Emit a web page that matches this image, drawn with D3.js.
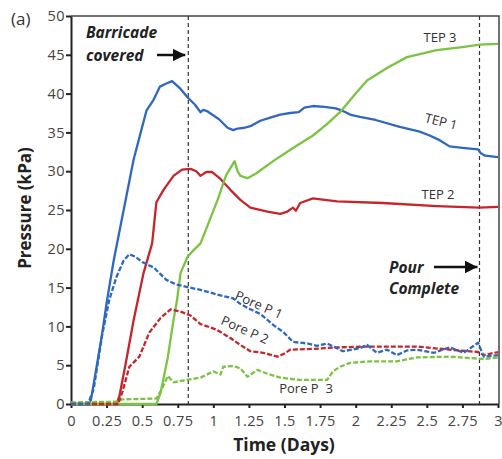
<!DOCTYPE html>
<html>
<head>
<meta charset="utf-8">
<script src="https://cdn.jsdelivr.net/npm/d3@7"></script>
<style>
  body { margin: 0; background: #fff; }
  svg { display: block; font-family: "Open Sans", sans-serif; }
</style>
</head>
<body>
<div id="chart"></div>
<script>
// readings: [days, kPa]
const tep1 = [[0,0],[0.12,0],[0.14,0.5],[0.18,4.8],[0.22,9.2],[0.25,13.0],[0.30,18.5],[0.37,25.0],[0.44,31.5],[0.49,35.0],[0.53,37.8],[0.58,39.2],[0.625,40.9],[0.67,41.3],[0.71,41.6],[0.77,40.6],[0.82,39.5],[0.87,38.6],[0.91,37.6],[0.93,37.9],[0.96,37.7],[1.04,36.7],[1.10,35.6],[1.14,35.3],[1.17,35.5],[1.22,35.6],[1.26,35.8],[1.33,36.5],[1.40,36.9],[1.47,37.3],[1.54,37.5],[1.60,37.6],[1.64,38.2],[1.70,38.4],[1.78,38.3],[1.86,38.1],[1.89,37.9],[1.93,37.6],[1.96,37.3],[2.03,37.0],[2.14,36.6],[2.31,35.7],[2.45,35.1],[2.52,34.6],[2.59,34.0],[2.66,33.2],[2.75,33.0],[2.86,32.8],[2.88,32.3],[2.91,32.0],[3.0,31.8]];
const tep2 = [[0,0],[0.32,0],[0.34,1],[0.38,4.8],[0.44,10.8],[0.51,16.9],[0.57,20.7],[0.60,26.0],[0.65,27.6],[0.72,29.4],[0.78,30.2],[0.84,30.3],[0.88,30.0],[0.91,29.4],[0.95,29.9],[0.99,29.9],[1.05,29.0],[1.12,27.6],[1.19,26.3],[1.26,25.3],[1.38,24.8],[1.47,24.5],[1.52,24.8],[1.56,25.3],[1.58,24.9],[1.61,25.9],[1.70,26.5],[1.74,26.4],[1.87,26.1],[2.19,25.9],[2.57,25.5],[2.87,25.3],[3.0,25.4]];
const tep3 = [[0,0],[0.60,0],[0.63,1.5],[0.68,6],[0.72,10.8],[0.745,13.4],[0.77,16.9],[0.82,19.0],[0.86,19.8],[0.91,20.7],[0.955,22.8],[1.03,26.3],[1.09,29.5],[1.14,31.0],[1.15,31.3],[1.17,30.0],[1.19,29.4],[1.24,29.1],[1.30,29.7],[1.42,31.3],[1.56,33.0],[1.70,34.6],[1.80,36.1],[1.89,37.6],[2.0,40.0],[2.08,41.7],[2.22,43.3],[2.36,44.7],[2.57,45.6],[2.75,46.0],[2.87,46.3],[3.0,46.4]];
const pore1 = [[0,0],[0.12,0],[0.16,2],[0.22,9.0],[0.27,13.5],[0.32,16.4],[0.37,18.5],[0.41,19.3],[0.45,19.0],[0.50,18.3],[0.58,17.6],[0.67,16.0],[0.74,15.4],[0.81,15.1],[0.91,14.7],[1.05,14.0],[1.14,13.6],[1.19,12.9],[1.26,12.2],[1.33,11.6],[1.42,10.2],[1.49,9.3],[1.56,8.0],[1.66,7.8],[1.73,7.5],[1.80,7.8],[1.91,6.8],[2.03,7.2],[2.08,7.6],[2.15,6.6],[2.22,7.0],[2.29,6.3],[2.36,6.9],[2.43,7.0],[2.55,6.6],[2.66,7.3],[2.76,6.6],[2.86,7.9],[2.90,6.1],[3.0,6.3]];
const pore2 = [[0,0],[0.33,0],[0.36,1.5],[0.41,4.8],[0.48,6.1],[0.55,9.2],[0.63,11.1],[0.70,12.2],[0.77,11.9],[0.84,11.4],[0.91,10.3],[1.02,9.6],[1.12,8.5],[1.19,7.6],[1.26,6.8],[1.35,6.6],[1.45,6.1],[1.50,6.5],[1.54,7.0],[1.70,7.1],[1.87,7.3],[2.08,7.4],[2.43,7.4],[2.66,7.0],[2.86,6.7],[2.90,6.3],[3.0,6.7]];
const pore3 = [[0,0.2],[0.33,0.3],[0.36,0.6],[0.60,0.7],[0.64,2.0],[0.68,3.6],[0.72,2.8],[0.81,3.1],[0.91,3.4],[1.0,4.2],[1.05,3.8],[1.07,4.8],[1.14,4.9],[1.19,4.6],[1.24,3.5],[1.31,4.4],[1.38,3.9],[1.47,3.4],[1.61,3.1],[1.80,3.1],[1.84,4.2],[1.89,4.8],[1.96,5.3],[2.10,5.5],[2.29,5.5],[2.43,6.0],[2.66,6.1],[2.90,5.8],[3.0,6.0]];

const xTicks = [0, 0.25, 0.5, 0.75, 1, 1.25, 1.5, 1.75, 2, 2.25, 2.5, 2.75, 3];
const yTicks = [0, 5, 10, 15, 20, 25, 30, 35, 40, 45, 50];
const markerDays = [0.824, 2.87]; // barricade covered, pour complete

const W = 502, H = 459;
const margin = { top: 16, right: 4, bottom: 55, left: 71 };

const svg = d3.select('#chart').append('svg')
    .attr('width', W)
    .attr('height', H);

const x = d3.scaleLinear().domain([0, 3]).range([margin.left, 498]);
const y = d3.scaleLinear().domain([0, 50]).range([404, margin.top]);

const blue = '#2f68bd', red = '#c4262b', green = '#7cc243';

// frame (top + right)
svg.append('path')
    .attr('d', `M${x(0)},${y(50)}H${x(3) + 1}V${y(0)}`)
    .attr('fill', 'none')
    .attr('stroke', '#444')
    .attr('stroke-width', 1.5);

// vertical marker lines
svg.selectAll('.marker')
    .data(markerDays)
    .join('line')
    .attr('x1', d => x(d)).attr('x2', d => x(d))
    .attr('y1', y(50)).attr('y2', y(0))
    .attr('stroke', '#333')
    .attr('stroke-width', 1.2)
    .attr('stroke-dasharray', '4,3');

// axes
const xAxis = svg.append('g')
    .attr('transform', `translate(0,${y(0)})`)
    .call(d3.axisBottom(x).tickValues(xTicks).tickFormat(d => String(d)).tickSize(4).tickSizeOuter(0));
const yAxis = svg.append('g')
    .attr('transform', `translate(${x(0)},0)`)
    .call(d3.axisLeft(y).tickValues(yTicks).tickSize(5).tickSizeOuter(0));

[xAxis, yAxis].forEach(a => {
    a.select('.domain').attr('stroke', '#222').attr('stroke-width', 2);
    a.selectAll('.tick line').attr('stroke', '#222').attr('stroke-width', 2);
    a.selectAll('.tick text')
        .attr('fill', '#444')
        .style('font-size', '14.5px')
        .style('letter-spacing', '0.4px')
        .style('font-family', '"Open Sans", sans-serif');
});
xAxis.selectAll('.tick text').attr('dy', '1.0em');
yAxis.selectAll('.tick text').attr('x', -6);

// axis titles
svg.append('text')
    .attr('x', 284).attr('y', 451)
    .attr('text-anchor', 'middle')
    .style('font-weight', 'bold').style('font-size', '17.5px').attr('fill', '#222')
    .text('Time (Days)');
svg.append('text')
    .attr('transform', 'translate(31,208) rotate(-90)')
    .attr('text-anchor', 'middle')
    .style('font-weight', 'bold').style('font-size', '17px').attr('fill', '#222')
    .text('Pressure (kPa)');
svg.append('text')
    .attr('x', 11).attr('y', 25)
    .style('font-size', '17px').attr('fill', '#333')
    .text('(a)');

// curves
const line = d3.line().x(d => x(d[0])).y(d => y(d[1]));
const series = [
    { data: tep1, color: blue, dash: null },
    { data: tep2, color: red, dash: null },
    { data: tep3, color: green, dash: null },
    { data: pore3, color: green, dash: '5,2' },
    { data: pore2, color: red, dash: '5,2' },
    { data: pore1, color: blue, dash: '5,2' }
];
svg.append('g').selectAll('path')
    .data(series)
    .join('path')
    .attr('d', d => line(d.data))
    .attr('fill', 'none')
    .attr('stroke', d => d.color)
    .attr('stroke-width', 2.3)
    .attr('stroke-linejoin', 'round')
    .attr('stroke-dasharray', d => d.dash);

// curve labels
const labels = [
    { text: 'TEP 3', x: 440, y: 42, rot: 0 },
    { text: 'TEP 1', x: 440, y: 126, rot: 14 },
    { text: 'TEP 2', x: 438, y: 199, rot: 0 },
    { text: 'Pore P 1', x: 257, y: 309, rot: 24 },
    { text: 'Pore P 2', x: 243, y: 334, rot: 24 },
    { text: 'Pore P\u00a0\u00a03', x: 306, y: 393, rot: 0 }
];
svg.append('g').selectAll('text')
    .data(labels)
    .join('text')
    .attr('transform', d => `translate(${d.x},${d.y}) rotate(${d.rot})`)
    .attr('text-anchor', 'middle')
    .style('font-size', '13px')
    .attr('fill', '#333')
    .text(d => d.text);

// annotations
const note = svg.append('g')
    .style('font-weight', 'bold').style('font-style', 'italic')
    .style('font-size', '15.5px').attr('fill', '#222');
note.append('text').attr('x', 86).attr('y', 38).text('Barricade');
note.append('text').attr('x', 86).attr('y', 61).text('covered');
note.append('text').attr('x', 389).attr('y', 273).text('Pour');
note.append('text').attr('x', 389).attr('y', 294).text('Complete');

svg.append('defs').append('marker')
    .attr('id', 'arrow')
    .attr('viewBox', '0 0 10 10')
    .attr('refX', 10).attr('refY', 5)
    .attr('markerWidth', 5).attr('markerHeight', 5)
    .attr('orient', 'auto')
    .append('path').attr('d', 'M0,0L10,5L0,10z').attr('fill', '#111');

[[157, 55, x(markerDays[0]) - 3, 55], [434, 267, x(markerDays[1]) - 2, 267]].forEach(a => {
    svg.append('line')
        .attr('x1', a[0]).attr('y1', a[1]).attr('x2', a[2]).attr('y2', a[3])
        .attr('stroke', '#111').attr('stroke-width', 2.5)
        .attr('marker-end', 'url(#arrow)');
});
</script>
</body>
</html>
